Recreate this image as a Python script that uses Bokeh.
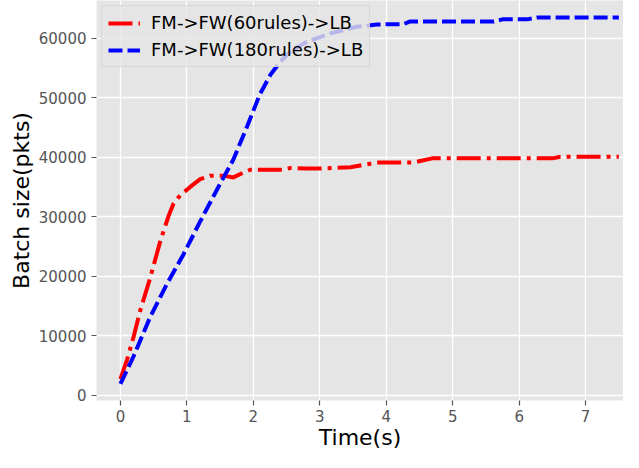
from bokeh.plotting import figure
from bokeh.models import FixedTicker, Range1d, Legend, LegendItem
from bokeh.embed import file_html
from bokeh.resources import INLINE

# Data
red_label = "FM->FW(60rules)->LB"
red_t = [0, 0.1, 0.2, 0.3, 0.45, 0.6, 0.73, 0.8, 0.9, 1.05, 1.2, 1.35, 1.55, 1.7, 1.85, 1.96,
         2.2, 2.45, 2.56, 2.78, 3.0, 3.46, 3.61, 3.86, 4.1, 4.41, 4.51, 4.69, 5.0, 5.5, 6.0,
         6.5, 6.62, 7.0, 7.5]
red_v = [2700, 6000, 9900, 14300, 19800, 25900, 30300, 32200, 33600, 35000, 36300, 36900,
         36900, 36600, 37400, 37900, 37900, 37900, 38200, 38100, 38100, 38300, 38600, 39100,
         39100, 39100, 39350, 39800, 39800, 39800, 39800, 39800, 40070, 40070, 40070]

blue_label = "FM->FW(180rules)->LB"
blue_t = [0, 0.2, 0.45, 0.7, 0.95, 1.2, 1.46, 1.7, 1.9, 2.1, 2.26, 2.41, 2.56, 2.81, 3.16,
          3.56, 3.86, 4.26, 4.36, 5.62, 5.75, 6.12, 6.27, 7.5]
blue_v = [1900, 6600, 13200, 18700, 23700, 29200, 34700, 39600, 45000, 50600, 53900, 56100,
          57800, 59400, 60800, 61900, 62300, 62350, 62800, 62800, 63150, 63150, 63450, 63450]

x_ticks = [0, 1, 2, 3, 4, 5, 6, 7]
y_ticks = [0, 10000, 20000, 30000, 40000, 50000, 60000]

p = figure(width=623, height=452, output_backend="svg", toolbar_location=None,
           x_range=Range1d(-0.36, 7.57), y_range=Range1d(-875, 66320),
           min_border_left=96, min_border_right=0, min_border_top=0, min_border_bottom=48)

p.background_fill_color = "#e5e5e5"
p.border_fill_color = "white"
p.outline_line_color = None

for ax in (p.xaxis[0], p.yaxis[0]):
    ax.axis_line_color = None
    ax.major_tick_line_color = "#555555"
    ax.major_tick_line_width = 1.2
    ax.major_tick_out = 5
    ax.major_tick_in = 0
    ax.minor_tick_line_color = None
    ax.major_label_text_font = "DejaVu Sans"
    ax.major_label_text_font_size = "15px"
    ax.major_label_text_color = "#555555"
    ax.major_label_standoff = 5
    ax.axis_label_text_font = "DejaVu Sans"
    ax.axis_label_text_font_size = "22px"
    ax.axis_label_text_font_style = "normal"
    ax.axis_label_text_color = "black"
    ax.axis_label_standoff = 2

p.xaxis[0].major_label_standoff = 4
p.xaxis[0].axis_label_standoff = 0
p.xaxis[0].ticker = FixedTicker(ticks=x_ticks)
p.yaxis[0].ticker = FixedTicker(ticks=y_ticks)
p.xaxis[0].axis_label = "Time(s)"
p.yaxis[0].axis_label = "Batch size(pkts)"

p.xgrid.grid_line_color = "white"
p.ygrid.grid_line_color = "white"
p.xgrid.grid_line_width = 1.3
p.ygrid.grid_line_width = 1.3
p.xgrid.ticker = FixedTicker(ticks=x_ticks)
p.ygrid.ticker = FixedTicker(ticks=y_ticks)

r_red = p.line(red_t, red_v, line_color="red", line_width=4, line_dash="24 6 4 6")
r_blue = p.line(blue_t, blue_v, line_color="blue", line_width=4, line_dash="14 5")

legend = Legend(items=[LegendItem(label=red_label, renderers=[r_red]),
                       LegendItem(label=blue_label, renderers=[r_blue])],
                location="top_left")
legend.margin = 5
legend.padding = 6
legend.spacing = 6
legend.glyph_width = 32
legend.glyph_height = 20
legend.label_standoff = 11
legend.label_text_font = "DejaVu Sans"
legend.label_text_font_size = "18px"
legend.label_text_color = "black"
legend.background_fill_color = "#e5e5e5"
legend.background_fill_alpha = 0.8
legend.border_line_color = "#cccccc"
legend.border_line_width = 1
p.add_layout(legend)

open("out.html", "w").write(file_html(p, INLINE))
